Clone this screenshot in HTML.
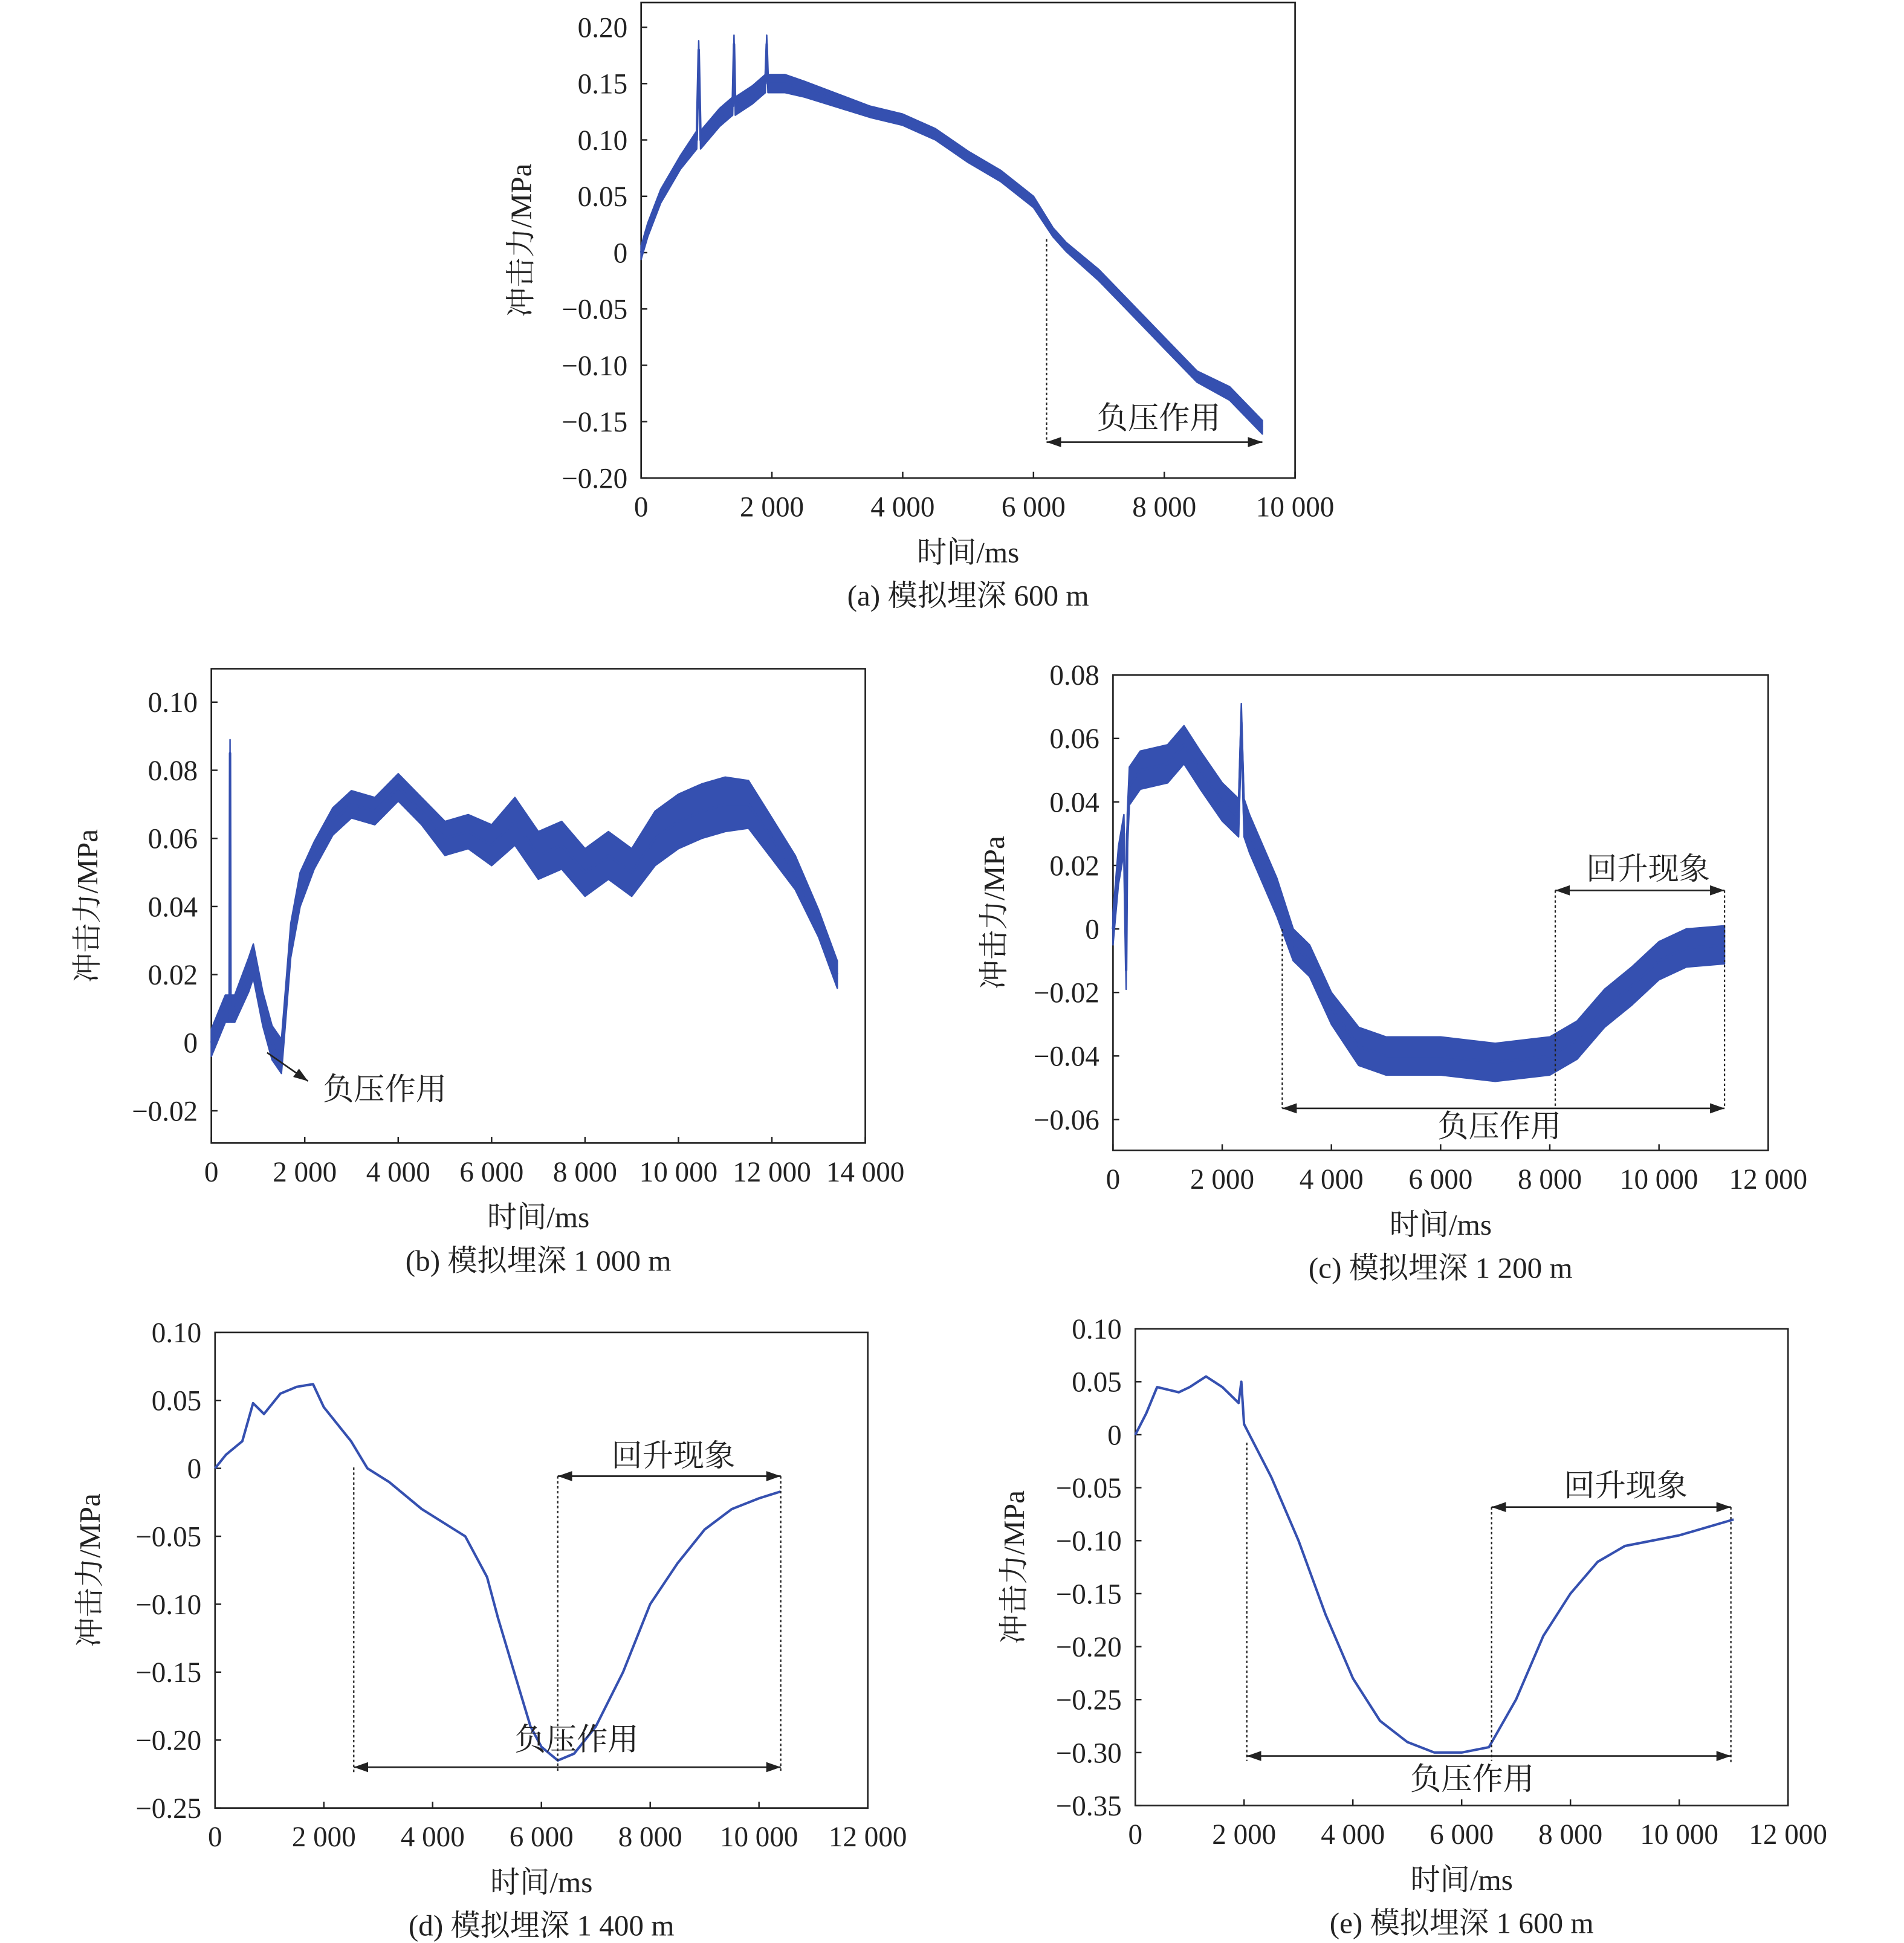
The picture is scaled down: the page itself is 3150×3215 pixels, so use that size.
<!DOCTYPE html>
<html><head><meta charset="utf-8">
<style>
html,body{margin:0;padding:0;background:#fff;}
svg{display:block;}
text{font-family:"Liberation Serif","Noto Serif CJK SC",serif;fill:#222;}
</style></head>
<body>
<svg id="chart" width="3150" height="3215" viewBox="0 0 1536 1569" xmlns="http://www.w3.org/2000/svg">
<defs>
<marker id="ah" viewBox="0 0 10 10" refX="10" refY="5" markerWidth="9" markerHeight="9" orient="auto-start-reverse"><path d="M0,1.5 L10,5 L0,8.5 Z" fill="#222"/></marker>
</defs>
</svg>
<script>
// Panel (a) 600 m
const aTime=[0,100,300,600,850,880,910,1200,1400,1420,1440,1700,1900,1920,1940,2200,2500,3000,3500,4000,4500,5000,5500,6000,6300,6500,7000,7500,8000,8500,9000,9500];
const aVal=[0.0,0.02,0.05,0.08,0.10,0.18,0.10,0.12,0.13,0.185,0.13,0.14,0.15,0.185,0.15,0.15,0.145,0.135,0.125,0.118,0.105,0.085,0.068,0.045,0.018,0.005,-0.02,-0.05,-0.08,-0.11,-0.125,-0.155];
const aSpread=[0.006,0.006,0.006,0.006,0.008,0.008,0.008,0.008,0.008,0.008,0.008,0.008,0.008,0.008,0.008,0.008,0.007,0.006,0.005,0.005,0.005,0.005,0.005,0.005,0.004,0.004,0.005,0.005,0.005,0.005,0.006,0.006];
// Panel (b) 1000 m
const bTime=[0,300,390,400,410,500,800,900,1100,1300,1500,1700,1900,2200,2600,3000,3500,4000,4500,5000,5500,6000,6500,7000,7500,8000,8500,9000,9500,10000,10500,11000,11500,12000,12500,13000,13400];
const bVal=[0.0,0.01,0.01,0.085,0.01,0.01,0.02,0.024,0.01,0.0,-0.004,0.03,0.045,0.055,0.065,0.07,0.068,0.075,0.068,0.06,0.062,0.058,0.065,0.055,0.058,0.05,0.055,0.05,0.06,0.065,0.068,0.07,0.07,0.06,0.05,0.035,0.02];
const bSpread=[0.004,0.004,0.004,0.004,0.004,0.004,0.005,0.005,0.005,0.005,0.005,0.005,0.005,0.004,0.004,0.004,0.004,0.004,0.004,0.005,0.005,0.006,0.007,0.007,0.007,0.007,0.007,0.007,0.008,0.008,0.008,0.008,0.007,0.006,0.005,0.004,0.004];
// Panel (c) 1200 m
const cTime=[0,100,200,240,260,300,500,1000,1300,1600,2000,2300,2350,2400,2500,3000,3300,3600,4000,4500,5000,6000,7000,8000,8500,9000,9500,10000,10500,11200];
const cVal=[0.0,0.02,0.03,-0.013,0.03,0.045,0.05,0.052,0.058,0.05,0.04,0.035,0.065,0.035,0.03,0.01,-0.005,-0.01,-0.025,-0.037,-0.04,-0.04,-0.042,-0.04,-0.035,-0.025,-0.018,-0.01,-0.006,-0.005];
const cSpread=[0.005,0.006,0.006,0.006,0.006,0.006,0.006,0.006,0.006,0.006,0.006,0.006,0.006,0.006,0.006,0.006,0.005,0.005,0.005,0.006,0.006,0.006,0.006,0.006,0.006,0.006,0.006,0.006,0.006,0.006];
// Panel (d) 1400 m
const dTime=[0,200,500,700,900,1200,1500,1800,2000,2500,2800,3200,3800,4400,4600,5000,5200,5500,5800,6000,6300,6600,7000,7500,8000,8500,9000,9500,10000,10400];
const dVal=[0,0.01,0.02,0.048,0.04,0.055,0.06,0.062,0.045,0.02,0.0,-0.01,-0.03,-0.045,-0.05,-0.08,-0.11,-0.15,-0.19,-0.205,-0.215,-0.21,-0.19,-0.15,-0.10,-0.07,-0.045,-0.03,-0.022,-0.017];
// Panel (e) 1600 m
const eTime=[0,200,400,800,1000,1300,1600,1900,1950,2000,2100,2500,3000,3500,4000,4500,5000,5500,6000,6500,7000,7500,8000,8500,9000,10000,11000];
const eVal=[0,0.02,0.045,0.04,0.045,0.055,0.045,0.03,0.05,0.01,0.0,-0.04,-0.10,-0.17,-0.23,-0.27,-0.29,-0.30,-0.30,-0.295,-0.25,-0.19,-0.15,-0.12,-0.105,-0.095,-0.08];
// Ticks
const aXT=[0,2000,4000,6000,8000,10000], aYT=[0.20,0.15,0.10,0.05,0,-0.05,-0.10,-0.15,-0.20];
const bXT=[0,2000,4000,6000,8000,10000,12000,14000], bYT=[0.10,0.08,0.06,0.04,0.02,0,-0.02];
const cXT=[0,2000,4000,6000,8000,10000,12000], cYT=[0.08,0.06,0.04,0.02,0,-0.02,-0.04,-0.06];
const dXT=[0,2000,4000,6000,8000,10000,12000], dYT=[0.10,0.05,0,-0.05,-0.10,-0.15,-0.20,-0.25];
const eXT=[0,2000,4000,6000,8000,10000,12000], eYT=[0.10,0.05,0,-0.05,-0.10,-0.15,-0.20,-0.25,-0.30,-0.35];

const NS="http://www.w3.org/2000/svg";
const svg=document.getElementById('chart');
function mk(tag,attrs,parent){const e=document.createElementNS(NS,tag);for(const k in attrs)e.setAttribute(k,attrs[k]);(parent||svg).appendChild(e);return e;}
function fmtX(v){if(v===0)return '0';const s=String(v);return s.slice(0,s.length-3)+' '+s.slice(-3);}
function fmtY(v,d){if(v===0)return '0';return (v<0?'\u2212':'')+Math.abs(v).toFixed(d);}

function panel(id,P){
  const g=mk('g',{});
  
  
  const sx=t=>P.x0+(t-P.xmin)/(P.xmax-P.xmin)*(P.x1-P.x0);
  const sy=v=>P.y0+(P.ymax-v)/(P.ymax-P.ymin)*(P.ya-P.y0);
  P.sx=sx;P.sy=sy;
  const bottom=P.bottom;
  const box=mk('rect',{x:P.x0,y:P.top,width:P.x1-P.x0,height:bottom-P.top,fill:'none',stroke:'#222','stroke-width':1.3},g);
  
  
  P.xt.forEach(t=>{
    const x=sx(t);
    mk('line',{x1:x,y1:bottom,x2:x,y2:bottom-5,stroke:'#222','stroke-width':1.2},g);
    const tx=mk('text',{x:x,y:bottom+31,'font-size':23,'text-anchor':'middle'},g);
    tx.textContent=fmtX(t);
    
    
  });
  P.yt.forEach(v=>{
    const y=sy(v);
    mk('line',{x1:P.x0,y1:y,x2:P.x0+5,y2:y,stroke:'#222','stroke-width':1.2},g);
    const tx=mk('text',{x:P.x0-11,y:y+8,'font-size':23,'text-anchor':'end'},g);
    tx.textContent=fmtY(v,2);
    
    
  });
  const yl=mk('text',{x:0,y:0,'font-size':24,'text-anchor':'middle',transform:`translate(${P.ylx},${(P.top+bottom)/2}) rotate(-90)`},g);
  yl.textContent='冲击力/MPa';
  
  
  const xl=mk('text',{x:(P.x0+P.x1)/2,y:bottom+68,'font-size':24,'text-anchor':'middle'},g);
  xl.textContent='时间/ms';
  
  
  const cap=mk('text',{x:(P.x0+P.x1)/2,y:bottom+103,'font-size':24,'text-anchor':'middle'},g);
  cap.textContent=P.caption;
  
  
  if(P.spread){
    let d='';
    P.t.forEach((t,i)=>{d+=(i?'L':'M')+sx(t).toFixed(1)+','+sy(P.v[i]+P.spread[i]).toFixed(1);});
    for(let i=P.t.length-1;i>=0;i--)d+='L'+sx(P.t[i]).toFixed(1)+','+sy(P.v[i]-P.spread[i]).toFixed(1);
    const band=mk('path',{d:d+'Z',fill:'#3550b0',stroke:'#3550b0','stroke-width':1.2,'stroke-linejoin':'round'},g);
    
    
  }
  const pts=P.t.map((t,i)=>sx(t).toFixed(1)+','+sy(P.v[i]).toFixed(1)).join(' ');
  const pl=mk('polyline',{points:pts,fill:'none',stroke:'#3550b0','stroke-width':2,'stroke-linejoin':'round'},g);
  
  
  return g;
}
function vline(g,x,y1,y2){const l=mk('line',{x1:x,y1:y1,x2:x,y2:y2,stroke:'#222','stroke-width':1.1,'stroke-dasharray':'2,2'},g);
  
  }
function harrow(g,x1,x2,y,name){const l=mk('line',{x1:x1,y1:y,x2:x2,y2:y,stroke:'#222','stroke-width':1.3,'marker-start':'url(#ah)','marker-end':'url(#ah)'},g);
  
  }
function label(g,x,y,s,name){const t=mk('text',{x:x,y:y,'font-size':25,'text-anchor':'middle'},g);t.textContent=s;
  
  }

const A={x0:517,x1:1045,top:2,y0:22,ya:386,bottom:386,xmin:0,xmax:10000,ymin:-0.20,ymax:0.20,xt:aXT,yt:aYT,t:aTime,v:aVal,spread:aSpread,ylx:428,caption:'(a) 模拟埋深 600 m'};
const gA=panel('a',A);
vline(gA,A.sx(6200),A.sy(0.012),357);
harrow(gA,A.sx(6200),A.sx(9500),357,'negative-pressure-span');
label(gA,935,346,'负压作用','negative-pressure-label');

const B={x0:170,x1:698,top:540,y0:567,ya:897,bottom:923,xmin:0,xmax:14000,ymin:-0.02,ymax:0.10,xt:bXT,yt:bYT,t:bTime,v:bVal,spread:bSpread,ylx:78,caption:'(b) 模拟埋深 1 000 m'};
const gB=panel('b',B);
mk('line',{x1:215,y1:850,x2:248,y2:873,stroke:'#222','stroke-width':1.3,'marker-end':'url(#ah)'},gB);
label(gB,310,888,'负压作用','negative-pressure-label');

const C={x0:898,x1:1427,top:545,y0:545,ya:904,bottom:929,xmin:0,xmax:12000,ymin:-0.06,ymax:0.08,xt:cXT,yt:cYT,t:cTime,v:cVal,spread:cSpread,ylx:810,caption:'(c) 模拟埋深 1 200 m'};
const gC=panel('c',C);
vline(gC,C.sx(3100),C.sy(0.0),895);
vline(gC,C.sx(8100),719,895);
vline(gC,C.sx(11200),719,895);
harrow(gC,C.sx(3100),C.sx(11200),895,'negative-pressure-span');
harrow(gC,C.sx(8100),C.sx(11200),719,'rebound-span');
label(gC,1210,918,'负压作用','negative-pressure-label');
label(gC,1330,710,'回升现象','rebound-label');

const D={x0:173,x1:700,top:1076,y0:1076,ya:1460,bottom:1460,xmin:0,xmax:12000,ymin:-0.25,ymax:0.10,xt:dXT,yt:dYT,t:dTime,v:dVal,spread:null,ylx:80,caption:'(d) 模拟埋深 1 400 m'};
const gD=panel('d',D);
vline(gD,D.sx(2550),1185,1432);
vline(gD,D.sx(6300),1192,1432);
vline(gD,D.sx(10400),1192,1432);
harrow(gD,D.sx(6300),D.sx(10400),1192,'rebound-span');
harrow(gD,D.sx(2550),D.sx(10400),1427,'negative-pressure-span');
label(gD,543,1184,'回升现象','rebound-label');
label(gD,465,1413,'负压作用','negative-pressure-label');

const E={x0:916,x1:1443,top:1073,y0:1073,ya:1458,bottom:1458,xmin:0,xmax:12000,ymin:-0.35,ymax:0.10,xt:eXT,yt:eYT,t:eTime,v:eVal,spread:null,ylx:826,caption:'(e) 模拟埋深 1 600 m'};
const gE=panel('e',E);
vline(gE,E.sx(2050),1165,1422);
vline(gE,E.sx(6550),1217,1422);
vline(gE,E.sx(10950),1217,1425);
harrow(gE,E.sx(6550),E.sx(10950),1217,'rebound-span');
harrow(gE,E.sx(2050),E.sx(10950),1418,'negative-pressure-span');
label(gE,1312,1208,'回升现象','rebound-label');
label(gE,1188,1445,'负压作用','negative-pressure-label');
</script>
</body></html>
